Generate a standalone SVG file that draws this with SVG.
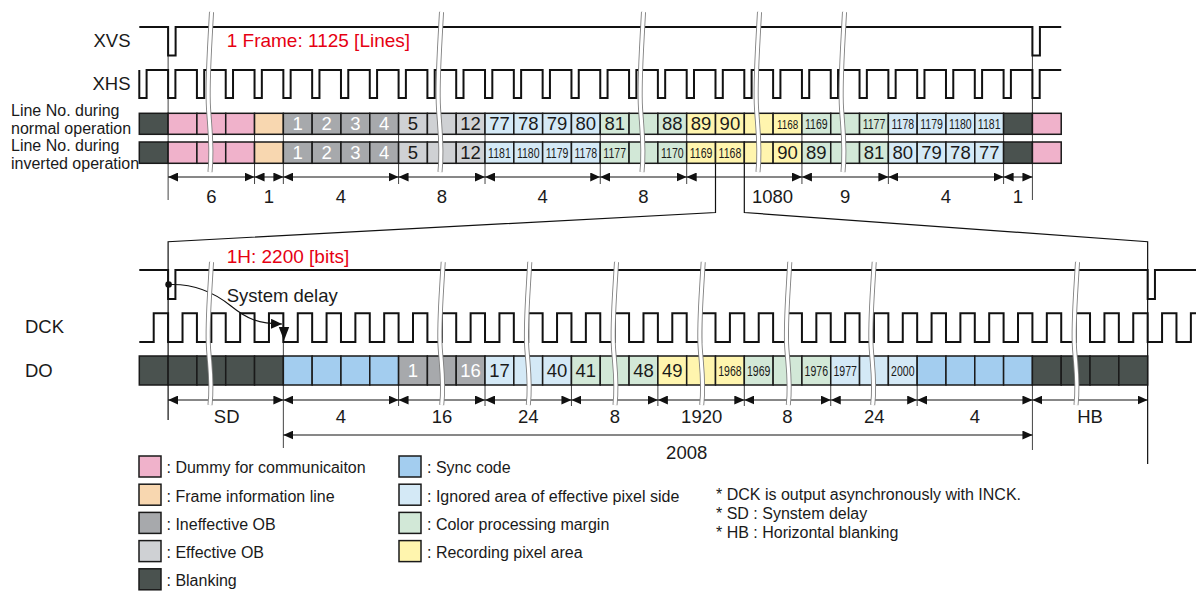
<svg xmlns="http://www.w3.org/2000/svg" xmlns:xlink="http://www.w3.org/1999/xlink" width="1196" height="592" viewBox="0 0 1196 592">
<style>
text{font-family:"Liberation Sans",Arial,sans-serif;fill:#1a1a1a}
.lbl{font-size:18.5px}
.red{font-size:19px;fill:#e60012}
.ln{font-size:16px}
.big{font-size:18.5px;text-anchor:middle}
.sm{font-size:15.5px;text-anchor:middle}
.w{fill:#fff}
.dim{font-size:18.5px;text-anchor:middle}
.leg{font-size:16px}
.note{font-size:16px}
.c{stroke:#1a1a1a;stroke-width:1.5}
.bk{fill:#4a524f}.pk{fill:#f0b2cb}.or{fill:#f8d7b0}.io{fill:#a7a9ac}.eo{fill:#cfd1d4}
.lb{fill:#d4e9f6}.gn{fill:#d2e8d7}.yl{fill:#fff5ae}.sb{fill:#a3cdef}
.wave{fill:none;stroke:#111;stroke-width:2}
.ext{stroke:#444;stroke-width:1;fill:none}
.dl{stroke:#111;stroke-width:1;fill:none;marker-start:url(#ah);marker-end:url(#ah)}
.zl{stroke:#111;stroke-width:1.2;fill:none}
.bo{fill:none;stroke:#808080;stroke-width:5}
.bi{fill:none;stroke:#fff;stroke-width:3.2}
</style>
<defs>
<marker id="ah" viewBox="0 0 10 9" refX="10" refY="4.5" markerWidth="10" markerHeight="9" markerUnits="userSpaceOnUse" orient="auto-start-reverse"><path d="M0,0L10,4.5L0,9Z" fill="#111"/></marker>
<marker id="ah2" viewBox="0 0 11 10" refX="11" refY="5" markerWidth="11" markerHeight="10" markerUnits="userSpaceOnUse" orient="auto"><path d="M0,0L11,5L0,10Z" fill="#111"/></marker>
<g id="bt"><path class="bo" d="M1.5,0C-1,48 -3,72 -1.5,96C0,120 2.5,136 0,160"/><path class="bi" d="M1.5,0C-1,48 -3,72 -1.5,96C0,120 2.5,136 0,160"/></g>
<g id="bb"><path class="bo" d="M1.5,0C-1,43 -3,64 -1.5,86C0,107 2.5,122 0,143"/><path class="bi" d="M1.5,0C-1,43 -3,64 -1.5,86C0,107 2.5,122 0,143"/></g>
</defs>
<rect width="1196" height="592" fill="#fff"/>

<g id="labels">
<text class="lbl" x="130.5" y="46.7" text-anchor="end">XVS</text>
<text class="lbl" x="130.5" y="90" text-anchor="end">XHS</text>
<text class="ln" x="11" y="115.5">Line No. during</text>
<text class="ln" x="11" y="133.5">normal operation</text>
<text class="ln" x="11" y="151">Line No. during</text>
<text class="ln" x="11" y="168.5">inverted operation</text>
<text class="lbl" x="25" y="333.3">DCK</text>
<text class="lbl" x="25" y="376.7">DO</text>
<text class="red" x="226.7" y="46.7">1 Frame: 1125 [Lines]</text>
<text class="red" x="226.7" y="262.5">1H: 2200 [bits]</text>
<text class="lbl" x="226.7" y="302">System delay</text>
</g>

<g id="connectors">
<path class="ext" d="M168.11,27V200M254.54,134V184M283.35,134V184M398.59,134V184M485.02,134V184M600.26,134V184M686.69,134V184M801.93,134V184M888.36,134V184M1003.6,134V184M1032.41,27V200"/>
<path class="ext" d="M283.35,313.3V448M398.59,385V406M485.02,385V406M571.45,385V406M657.88,385V406M744.31,385V406M830.74,385V406M917.17,385V406M1032.41,385V450"/>
<polyline class="zl" points="715.5,163.3 715.5,212.5 168.11,241.7 168.11,420"/>
<polyline class="zl" points="744.31,163.3 744.31,212.5 1147.65,241.7 1147.65,464"/>
</g>

<g id="row-normal">
<rect class="c bk" x="139.3" y="113.3" width="28.81" height="21"/>
<rect class="c pk" x="168.11" y="113.3" width="28.81" height="21"/>
<rect class="c pk" x="196.92" y="113.3" width="28.81" height="21"/>
<rect class="c pk" x="225.73" y="113.3" width="28.81" height="21"/>
<rect class="c or" x="254.54" y="113.3" width="28.81" height="21"/>
<rect class="c io" x="283.35" y="113.3" width="28.81" height="21"/>
<rect class="c io" x="312.16" y="113.3" width="28.81" height="21"/>
<rect class="c io" x="340.97" y="113.3" width="28.81" height="21"/>
<rect class="c io" x="369.78" y="113.3" width="28.81" height="21"/>
<rect class="c eo" x="398.59" y="113.3" width="28.81" height="21"/>
<rect class="c eo" x="427.4" y="113.3" width="28.81" height="21"/>
<rect class="c eo" x="456.21" y="113.3" width="28.81" height="21"/>
<rect class="c lb" x="485.02" y="113.3" width="28.81" height="21"/>
<rect class="c lb" x="513.83" y="113.3" width="28.81" height="21"/>
<rect class="c lb" x="542.64" y="113.3" width="28.81" height="21"/>
<rect class="c lb" x="571.45" y="113.3" width="28.81" height="21"/>
<rect class="c gn" x="600.26" y="113.3" width="28.81" height="21"/>
<rect class="c gn" x="629.07" y="113.3" width="28.81" height="21"/>
<rect class="c gn" x="657.88" y="113.3" width="28.81" height="21"/>
<rect class="c yl" x="686.69" y="113.3" width="28.81" height="21"/>
<rect class="c yl" x="715.5" y="113.3" width="28.81" height="21"/>
<rect class="c yl" x="744.31" y="113.3" width="28.81" height="21"/>
<rect class="c yl" x="773.12" y="113.3" width="28.81" height="21"/>
<rect class="c gn" x="801.93" y="113.3" width="28.81" height="21"/>
<rect class="c gn" x="830.74" y="113.3" width="28.81" height="21"/>
<rect class="c gn" x="859.55" y="113.3" width="28.81" height="21"/>
<rect class="c lb" x="888.36" y="113.3" width="28.81" height="21"/>
<rect class="c lb" x="917.17" y="113.3" width="28.81" height="21"/>
<rect class="c lb" x="945.98" y="113.3" width="28.81" height="21"/>
<rect class="c lb" x="974.79" y="113.3" width="28.81" height="21"/>
<rect class="c bk" x="1003.6" y="113.3" width="28.81" height="21"/>
<rect class="c pk" x="1032.41" y="113.3" width="28.81" height="21"/>
<text class="big w" x="297.76" y="130.4">1</text>
<text class="big w" x="326.57" y="130.4">2</text>
<text class="big w" x="355.38" y="130.4">3</text>
<text class="big w" x="384.19" y="130.4">4</text>
<text class="big" x="413" y="130.4">5</text>
<text class="big" x="470.62" y="130.4">12</text>
<text class="big" x="499.43" y="130.4">77</text>
<text class="big" x="528.24" y="130.4">78</text>
<text class="big" x="557.05" y="130.4">79</text>
<text class="big" x="585.86" y="130.4">80</text>
<text class="big" x="614.67" y="130.4">81</text>
<text class="big" x="672.29" y="130.4">88</text>
<text class="big" x="701.1" y="130.4">89</text>
<text class="big" x="729.91" y="130.4">90</text>
<text class="sm" style="font-size:13px" transform="translate(787.53,128.5) scale(0.76,1)">1168</text>
<text class="sm" transform="translate(816.34,129.3) scale(0.68,1)">1169</text>
<text class="sm" transform="translate(873.96,129.3) scale(0.68,1)">1177</text>
<text class="sm" transform="translate(902.77,129.3) scale(0.68,1)">1178</text>
<text class="sm" transform="translate(931.58,129.3) scale(0.68,1)">1179</text>
<text class="sm" transform="translate(960.39,129.3) scale(0.68,1)">1180</text>
<text class="sm" transform="translate(989.2,129.3) scale(0.68,1)">1181</text>
</g>

<g id="row-inverted">
<rect class="c bk" x="139.3" y="142" width="28.81" height="21.3"/>
<rect class="c pk" x="168.11" y="142" width="28.81" height="21.3"/>
<rect class="c pk" x="196.92" y="142" width="28.81" height="21.3"/>
<rect class="c pk" x="225.73" y="142" width="28.81" height="21.3"/>
<rect class="c or" x="254.54" y="142" width="28.81" height="21.3"/>
<rect class="c io" x="283.35" y="142" width="28.81" height="21.3"/>
<rect class="c io" x="312.16" y="142" width="28.81" height="21.3"/>
<rect class="c io" x="340.97" y="142" width="28.81" height="21.3"/>
<rect class="c io" x="369.78" y="142" width="28.81" height="21.3"/>
<rect class="c eo" x="398.59" y="142" width="28.81" height="21.3"/>
<rect class="c eo" x="427.4" y="142" width="28.81" height="21.3"/>
<rect class="c eo" x="456.21" y="142" width="28.81" height="21.3"/>
<rect class="c lb" x="485.02" y="142" width="28.81" height="21.3"/>
<rect class="c lb" x="513.83" y="142" width="28.81" height="21.3"/>
<rect class="c lb" x="542.64" y="142" width="28.81" height="21.3"/>
<rect class="c lb" x="571.45" y="142" width="28.81" height="21.3"/>
<rect class="c gn" x="600.26" y="142" width="28.81" height="21.3"/>
<rect class="c gn" x="629.07" y="142" width="28.81" height="21.3"/>
<rect class="c gn" x="657.88" y="142" width="28.81" height="21.3"/>
<rect class="c yl" x="686.69" y="142" width="28.81" height="21.3"/>
<rect class="c yl" x="715.5" y="142" width="28.81" height="21.3"/>
<rect class="c yl" x="744.31" y="142" width="28.81" height="21.3"/>
<rect class="c yl" x="773.12" y="142" width="28.81" height="21.3"/>
<rect class="c gn" x="801.93" y="142" width="28.81" height="21.3"/>
<rect class="c gn" x="830.74" y="142" width="28.81" height="21.3"/>
<rect class="c gn" x="859.55" y="142" width="28.81" height="21.3"/>
<rect class="c lb" x="888.36" y="142" width="28.81" height="21.3"/>
<rect class="c lb" x="917.17" y="142" width="28.81" height="21.3"/>
<rect class="c lb" x="945.98" y="142" width="28.81" height="21.3"/>
<rect class="c lb" x="974.79" y="142" width="28.81" height="21.3"/>
<rect class="c bk" x="1003.6" y="142" width="28.81" height="21.3"/>
<rect class="c pk" x="1032.41" y="142" width="28.81" height="21.3"/>
<text class="big w" x="297.76" y="159.2">1</text>
<text class="big w" x="326.57" y="159.2">2</text>
<text class="big w" x="355.38" y="159.2">3</text>
<text class="big w" x="384.19" y="159.2">4</text>
<text class="big" x="413" y="159.2">5</text>
<text class="big" x="470.62" y="159.2">12</text>
<text class="sm" transform="translate(499.43,158.2) scale(0.68,1)">1181</text>
<text class="sm" transform="translate(528.24,158.2) scale(0.68,1)">1180</text>
<text class="sm" transform="translate(557.05,158.2) scale(0.68,1)">1179</text>
<text class="sm" transform="translate(585.86,158.2) scale(0.68,1)">1178</text>
<text class="sm" transform="translate(614.67,158.2) scale(0.68,1)">1177</text>
<text class="sm" transform="translate(672.29,158.2) scale(0.68,1)">1170</text>
<text class="sm" transform="translate(701.1,158.2) scale(0.68,1)">1169</text>
<text class="sm" transform="translate(729.91,158.2) scale(0.68,1)">1168</text>
<text class="big" x="787.53" y="159.2">90</text>
<text class="big" x="816.34" y="159.2">89</text>
<text class="big" x="873.96" y="159.2">81</text>
<text class="big" x="902.77" y="159.2">80</text>
<text class="big" x="931.58" y="159.2">79</text>
<text class="big" x="960.39" y="159.2">78</text>
<text class="big" x="989.2" y="159.2">77</text>
</g>

<g id="row-do">
<rect class="c bk" x="139.3" y="356" width="28.81" height="29"/>
<rect class="c bk" x="168.11" y="356" width="28.81" height="29"/>
<rect class="c bk" x="196.92" y="356" width="28.81" height="29"/>
<rect class="c bk" x="225.73" y="356" width="28.81" height="29"/>
<rect class="c bk" x="254.54" y="356" width="28.81" height="29"/>
<rect class="c sb" x="283.35" y="356" width="28.81" height="29"/>
<rect class="c sb" x="312.16" y="356" width="28.81" height="29"/>
<rect class="c sb" x="340.97" y="356" width="28.81" height="29"/>
<rect class="c sb" x="369.78" y="356" width="28.81" height="29"/>
<rect class="c io" x="398.59" y="356" width="28.81" height="29"/>
<rect class="c io" x="427.4" y="356" width="28.81" height="29"/>
<rect class="c io" x="456.21" y="356" width="28.81" height="29"/>
<rect class="c lb" x="485.02" y="356" width="28.81" height="29"/>
<rect class="c lb" x="513.83" y="356" width="28.81" height="29"/>
<rect class="c lb" x="542.64" y="356" width="28.81" height="29"/>
<rect class="c gn" x="571.45" y="356" width="28.81" height="29"/>
<rect class="c gn" x="600.26" y="356" width="28.81" height="29"/>
<rect class="c gn" x="629.07" y="356" width="28.81" height="29"/>
<rect class="c yl" x="657.88" y="356" width="28.81" height="29"/>
<rect class="c yl" x="686.69" y="356" width="28.81" height="29"/>
<rect class="c yl" x="715.5" y="356" width="28.81" height="29"/>
<rect class="c gn" x="744.31" y="356" width="28.81" height="29"/>
<rect class="c gn" x="773.12" y="356" width="28.81" height="29"/>
<rect class="c gn" x="801.93" y="356" width="28.81" height="29"/>
<rect class="c lb" x="830.74" y="356" width="28.81" height="29"/>
<rect class="c lb" x="859.55" y="356" width="28.81" height="29"/>
<rect class="c lb" x="888.36" y="356" width="28.81" height="29"/>
<rect class="c sb" x="917.17" y="356" width="28.81" height="29"/>
<rect class="c sb" x="945.98" y="356" width="28.81" height="29"/>
<rect class="c sb" x="974.79" y="356" width="28.81" height="29"/>
<rect class="c sb" x="1003.6" y="356" width="28.81" height="29"/>
<rect class="c bk" x="1032.41" y="356" width="28.81" height="29"/>
<rect class="c bk" x="1061.22" y="356" width="28.81" height="29"/>
<rect class="c bk" x="1090.03" y="356" width="28.81" height="29"/>
<rect class="c bk" x="1118.84" y="356" width="28.81" height="29"/>
<text class="big w" x="413" y="377.1">1</text>
<text class="big w" x="470.62" y="377.1">16</text>
<text class="big" x="499.43" y="377.1">17</text>
<text class="big" x="557.05" y="377.1">40</text>
<text class="big" x="585.86" y="377.1">41</text>
<text class="big" x="643.48" y="377.1">48</text>
<text class="big" x="672.29" y="377.1">49</text>
<text class="sm" transform="translate(729.91,376) scale(0.68,1)">1968</text>
<text class="sm" transform="translate(758.72,376) scale(0.68,1)">1969</text>
<text class="sm" transform="translate(816.34,376) scale(0.68,1)">1976</text>
<text class="sm" transform="translate(845.15,376) scale(0.68,1)">1977</text>
<text class="sm" transform="translate(902.77,376) scale(0.68,1)">2000</text>
</g>

<g id="signals">
<path class="wave" d="M139.3,27H168.11V55.5h7.5V27H1032.41V55.5h7.5V27H1061.22"/>
<path class="wave" d="M139.3,70v28h7.3v-28h21.51v28h7.3v-28h21.51v28h7.3v-28h21.51v28h7.3v-28h21.51v28h7.3v-28h21.51v28h7.3v-28h21.51v28h7.3v-28h21.51v28h7.3v-28h21.51v28h7.3v-28h21.51v28h7.3v-28h21.51v28h7.3v-28h21.51v28h7.3v-28h21.51v28h7.3v-28h21.51v28h7.3v-28h21.51v28h7.3v-28h21.51v28h7.3v-28h21.51v28h7.3v-28h21.51v28h7.3v-28h21.51v28h7.3v-28h21.51v28h7.3v-28h21.51v28h7.3v-28h21.51v28h7.3v-28h21.51v28h7.3v-28h21.51v28h7.3v-28h21.51v28h7.3v-28h21.51v28h7.3v-28h21.51v28h7.3v-28h21.51v28h7.3v-28h21.51v28h7.3v-28h21.51v28h7.3v-28h21.51v28h7.3v-28h21.51v28h7.3v-28h21.51"/>
<path class="wave" d="M139.3,270H168.11v29h7.3v-29H1147.65v29h7.3v-29H1196"/>
<path class="wave" d="M139.3,342H153.71V313.3H168.11V342H182.52V313.3H196.92V342H211.33V313.3H225.73V342H240.14V313.3H254.54V342H268.95V313.3H283.35V342H297.76V313.3H312.16V342H326.57V313.3H340.97V342H355.38V313.3H369.78V342H384.19V313.3H398.59V342H413V313.3H427.4V342H441.81V313.3H456.21V342H470.62V313.3H485.02V342H499.43V313.3H513.83V342H528.24V313.3H542.64V342H557.05V313.3H571.45V342H585.86V313.3H600.26V342H614.67V313.3H629.07V342H643.48V313.3H657.88V342H672.29V313.3H686.69V342H701.1V313.3H715.5V342H729.91V313.3H744.31V342H758.72V313.3H773.12V342H787.53V313.3H801.93V342H816.34V313.3H830.74V342H845.15V313.3H859.55V342H873.96V313.3H888.36V342H902.77V313.3H917.17V342H931.58V313.3H945.98V342H960.39V313.3H974.79V342H989.2V313.3H1003.6V342H1018.01V313.3H1032.41V342H1046.82V313.3H1061.22V342H1075.63V313.3H1090.03V342H1104.44V313.3H1118.84V342H1133.25V313.3H1147.65V342H1162.06V313.3H1176.46V342H1190.87V313.3H1196"/>
<circle cx="168.6" cy="284.5" r="3.3" fill="#111"/>
<path d="M168.6,284.5C195,283.5 214,292 231,306C247,319 258,323.5 282,324" fill="none" stroke="#111" stroke-width="1.1" marker-end="url(#ah2)"/>
<polygon points="278.8,327 289.2,327 284,340.5" fill="#111"/>
</g>

<g id="dimensions">
<path class="dl" d="M168.11,177H254.54"/>
<path class="dl" d="M254.54,177H283.35"/>
<path class="dl" d="M283.35,177H398.59"/>
<path class="dl" d="M398.59,177H485.02"/>
<path class="dl" d="M485.02,177H600.26"/>
<path class="dl" d="M600.26,177H686.69"/>
<path class="dl" d="M686.69,177H801.93"/>
<path class="dl" d="M801.93,177H888.36"/>
<path class="dl" d="M888.36,177H1003.6"/>
<path class="dl" d="M1003.6,177H1032.41"/>
<text class="dim" x="211.3" y="202.6">6</text>
<text class="dim" x="268.9" y="202.6">1</text>
<text class="dim" x="341" y="202.6">4</text>
<text class="dim" x="441.8" y="202.6">8</text>
<text class="dim" x="542.6" y="202.6">4</text>
<text class="dim" x="643.5" y="202.6">8</text>
<text class="dim" x="772.5" y="202.6">1080</text>
<text class="dim" x="845.2" y="202.6">9</text>
<text class="dim" x="946" y="202.6">4</text>
<text class="dim" x="1018" y="202.6">1</text>
<path class="dl" d="M168.11,400H283.35"/>
<path class="dl" d="M283.35,400H398.59"/>
<path class="dl" d="M398.59,400H485.02"/>
<path class="dl" d="M485.02,400H571.45"/>
<path class="dl" d="M571.45,400H657.88"/>
<path class="dl" d="M657.88,400H744.31"/>
<path class="dl" d="M744.31,400H830.74"/>
<path class="dl" d="M830.74,400H917.17"/>
<path class="dl" d="M917.17,400H1032.41"/>
<path class="dl" d="M1032.41,400H1147.65"/>
<path class="dl" d="M283.35,435H1032.41"/>
<text class="dim" x="226.7" y="423">SD</text>
<text class="dim" x="341" y="423">4</text>
<text class="dim" x="442" y="423">16</text>
<text class="dim" x="528.3" y="423">24</text>
<text class="dim" x="615" y="423">8</text>
<text class="dim" x="701.7" y="423">1920</text>
<text class="dim" x="787.5" y="423">8</text>
<text class="dim" x="874.3" y="423">24</text>
<text class="dim" x="974.8" y="423">4</text>
<text class="dim" x="1090" y="423">HB</text>
<text class="dim" x="686.7" y="459.3">2008</text>
</g>

<g id="breaks">
<use href="#bt" x="210" y="12"/>
<use href="#bt" x="440" y="12"/>
<use href="#bt" x="642" y="12"/>
<use href="#bt" x="758" y="12"/>
<use href="#bt" x="843" y="12"/>
<use href="#bb" x="210" y="262"/>
<use href="#bb" x="441.7" y="262"/>
<use href="#bb" x="528.3" y="262"/>
<use href="#bb" x="615" y="262"/>
<use href="#bb" x="701.7" y="262"/>
<use href="#bb" x="788.3" y="262"/>
<use href="#bb" x="872.7" y="262"/>
<use href="#bb" x="1076" y="262"/>
</g>

<g id="legend">
<rect class="c pk" x="139" y="456" width="22" height="21"/>
<rect class="c or" x="139" y="484.2" width="22" height="21"/>
<rect class="c io" x="139" y="512.4" width="22" height="21"/>
<rect class="c eo" x="139" y="540.6" width="22" height="21"/>
<rect class="c bk" x="139" y="568.8" width="22" height="21"/>
<text class="leg" x="166.5" y="473.3">: Dummy for communicaiton</text>
<text class="leg" x="166.5" y="501.5">: Frame information line</text>
<text class="leg" x="166.5" y="529.5">: Ineffective OB</text>
<text class="leg" x="166.5" y="557.5">: Effective OB</text>
<text class="leg" x="166.5" y="585.5">: Blanking</text>
<rect class="c sb" x="399" y="456" width="22" height="21"/>
<rect class="c lb" x="399" y="484.2" width="22" height="21"/>
<rect class="c gn" x="399" y="512.4" width="22" height="21"/>
<rect class="c yl" x="399" y="540.6" width="22" height="21"/>
<text class="leg" x="427" y="473.3">: Sync code</text>
<text class="leg" x="427" y="501.5">: Ignored area of effective pixel side</text>
<text class="leg" x="427" y="529.5">: Color processing margin</text>
<text class="leg" x="427" y="557.5">: Recording pixel area</text>
</g>

<g id="notes">
<text class="note" x="716" y="500">* DCK is output asynchronously with INCK.</text>
<text class="note" x="716" y="519">* SD : Synstem delay</text>
<text class="note" x="716" y="538">* HB : Horizontal blanking</text>
</g>
</svg>
